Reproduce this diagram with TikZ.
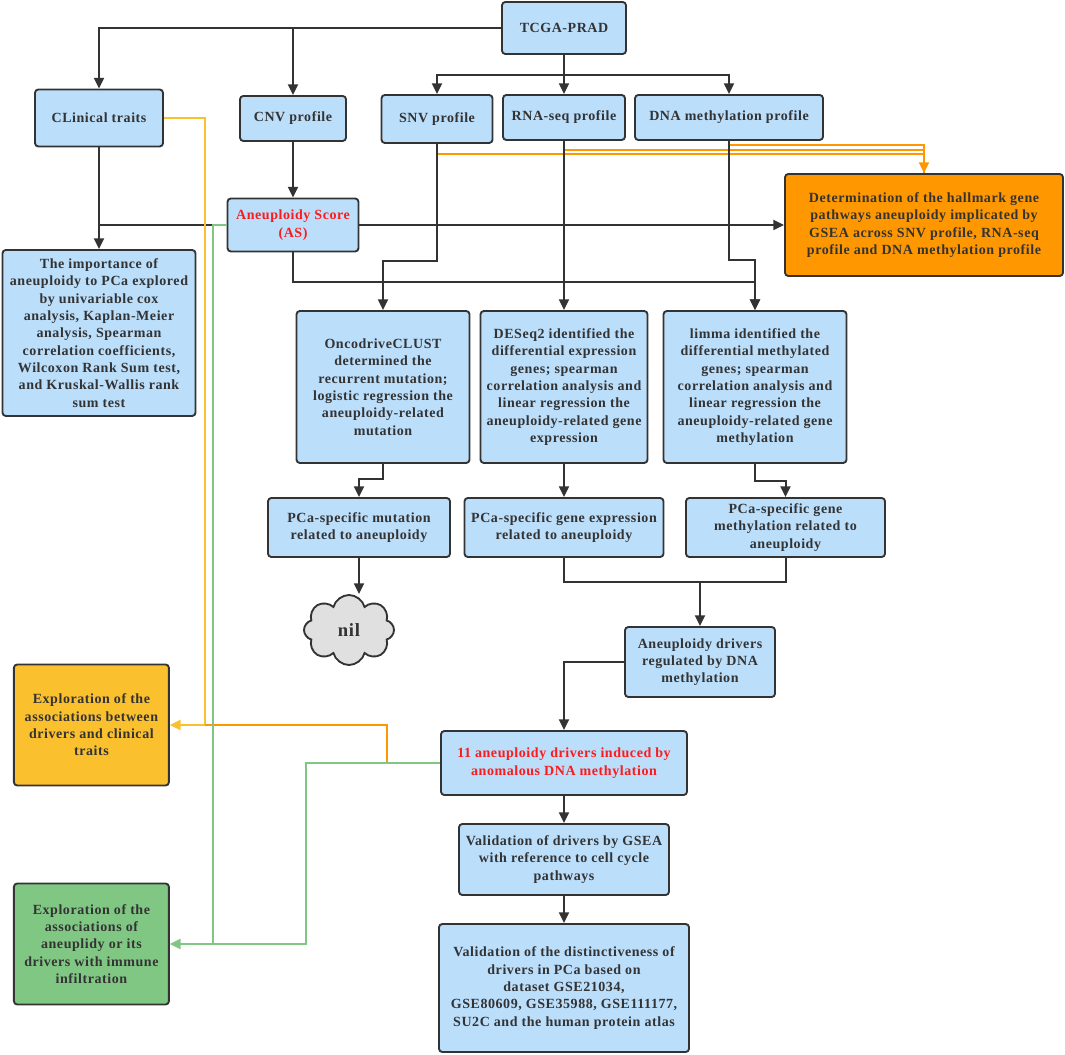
\documentclass[tikz,border=0pt]{standalone}
\usepackage{fontspec}
\setmainfont{Liberation Serif}[LetterSpace=4]
\usetikzlibrary{arrows.meta, shapes.symbols}

\definecolor{boxblue}{HTML}{BBDEFB}
\definecolor{darkline}{HTML}{333333}
\definecolor{hallorange}{HTML}{FF9800}
\definecolor{clinyellow}{HTML}{FBC02D}
\definecolor{immgreen}{HTML}{81C784}
\definecolor{nilgrey}{HTML}{E0E0E0}
\definecolor{keyred}{HTML}{FF1A1A}

\begin{document}
\begin{tikzpicture} [x=0.75pt, y=-0.75pt,
    stage/.style = {draw=darkline, fill=boxblue, line width=1.4pt, rounded corners=2.5pt,
        align=center, inner sep=2pt, text=darkline,
        font=\fontsize{10.5}{13}\selectfont\bfseries},
    size/.style 2 args = {minimum width=#1*0.75pt, minimum height=#2*0.75pt},
    key/.style = {text=keyred},
    tip/.style = {-{Triangle[length=8pt, width=7.5pt]}},
    flow/.style = {tip, draw=darkline, line width=1.5pt},
    clinline/.style = {draw=clinyellow, line width=1.5pt},
    hallline/.style = {draw=hallorange, line width=1.5pt},
    immline/.style = {draw=immgreen, line width=1.5pt}]
    \useasboundingbox (0,0) rectangle (1065,1055);

    % sources
    \node (tcga) [stage, size={124}{52}] at (564,28) {TCGA-PRAD};
    \node (clin) [stage, size={128}{57}] at (99,118) {CLinical traits};
    \node (cnv) [stage, size={106}{45}] at (293,118.5) {CNV profile};
    \node (snv) [stage, size={111}{48}] at (437,119) {SNV profile};
    \node (rna) [stage, size={122}{45}] at (564,117.5) {RNA-seq profile};
    \node (dna) [stage, size={188}{45}] at (729,117.5) {DNA methylation profile};

    \node (as) [stage, key, size={131}{53}] at (293,225) {Aneuploidy Score\\(AS)};
    \node (hallmark) [stage, fill=hallorange, size={278}{102}] at (924,225)
        {Determination of the hallmark gene\\pathways aneuploidy implicated by\\GSEA across SNV profile, RNA-seq\\profile and DNA methylation profile};
    \node (imp) [stage, size={193}{166}] at (99,333)
        {The importance of\\aneuploidy to PCa explored\\by univariable cox\\analysis, Kaplan-Meier\\analysis, Spearman\\correlation coefficients,\\Wilcoxon Rank Sum test,\\and Kruskal-Wallis rank\\sum test};

    % analyses
    \node (onco) [stage, size={173}{152}] at (383,387)
        {OncodriveCLUST\\determined the\\recurrent mutation;\\logistic regression the\\aneuploidy-related\\mutation};
    \node (deseq) [stage, size={167}{152}] at (564,387)
        {DESeq2 identified the\\differential expression\\genes; spearman\\correlation analysis and\\linear regression the\\aneuploidy-related gene\\expression};
    \node (limma) [stage, size={183}{152}] at (755,387)
        {limma identified the\\differential methylated\\genes; spearman\\correlation analysis and\\linear regression the\\aneuploidy-related gene\\methylation};

    \node (pmut) [stage, size={182}{59}] at (359,527.5) {PCa-specific mutation\\related to aneuploidy};
    \node (pexp) [stage, size={199}{59}] at (564,527.5) {PCa-specific gene expression\\related to aneuploidy};
    \node (pmet) [stage, size={199}{59}] at (785.5,527.5) {PCa-specific gene\\methylation related to\\aneuploidy};
    \node (nil) [cloud, cloud puffs=8, aspect=1.25, draw=darkline, fill=nilgrey, line width=1.4pt,
        size={90}{70}, font=\fontsize{14}{16}\selectfont\bfseries, text=darkline] at (349,630) {nil};

    % drivers
    \node (drv) [stage, size={150}{70}] at (700,662) {Aneuploidy drivers\\regulated by DNA\\methylation};
    \node (drv11) [stage, key, size={246}{64}] at (564,763) {11 aneuploidy drivers induced by\\anomalous DNA methylation};
    \node (valg) [stage, size={210}{71}] at (564,859.5) {Validation of drivers by GSEA\\with reference to cell cycle\\pathways};
    \node (vald) [stage, size={250}{128}] at (564,988)
        {Validation of the distinctiveness of\\drivers in PCa based on\\dataset GSE21034,\\GSE80609, GSE35988, GSE111177,\\SU2C and the human protein atlas};
    \node (expc) [stage, fill=clinyellow, size={155}{121}] at (91.4,725)
        {Exploration of the\\associations between\\drivers and clinical\\traits};
    \node (expi) [stage, fill=immgreen, size={155}{121}] at (91.4,944)
        {Exploration of the\\associations of\\aneuplidy or its\\drivers with immune\\infiltration};

    % bends
    \coordinate (split) at (564,75);
    \coordinate (asbus) at (293,282);
    \coordinate (snvbend) at (437,261);
    \coordinate (dnabend) at (729,260);
    \coordinate (oncobend) at (383,479);
    \coordinate (limmabend) at (755,481);
    \coordinate (mergebus) at (700,582);
    \coordinate (snvtap) at (437,154);
    \coordinate (rnatap) at (564,150);
    \coordinate (dnatap) at (729,145);
    \coordinate (clinjoin) at (205,725);
    \coordinate (drvtap) at (387,763);
    \coordinate (asdrop) at (213,944);
    \coordinate (drvdrop) at (306,944);

    \draw [flow] (tcga.west) -| (clin.north);
    \draw [flow] (tcga.west) -| (cnv.north);
    \draw [flow] (tcga.south) -- (split) -| (snv.north);
    \draw [flow] (split) -- (rna.north);
    \draw [flow] (split) -| (dna.north);

    \draw [flow] (clin.south) -- (imp.north);
    \draw [darkline, line width=1.5pt] (clin.south |- as.west) -- (as.west);
    \draw [flow] (cnv.south) -- (as.north);
    \draw [flow] (as.east) -- (hallmark.west);

    \draw [hallline] (snvtap) -| (hallmark.north);
    \draw [hallline] (rnatap) -| (hallmark.north);
    \draw [hallline, tip] (dnatap) -| (hallmark.north);

    \draw [flow] (as.south) -- (asbus) -| (limma.north);
    \draw [flow] (snv.south) -- (snvbend) -| (onco.north);
    \draw [flow] (rna.south) -- (deseq.north);
    \draw [flow] (dna.south) -- (dnabend) -| (limma.north);

    \draw [flow] (onco.south) -- (oncobend) -| (pmut.north);
    \draw [flow] (deseq.south) -- (pexp.north);
    \draw [flow] (limma.south) -- (limmabend) -| (pmet.north);
    \draw [flow] (pmut.south) -- (pmut.south |- nil.north);

    \draw [darkline, line width=1.5pt] (pexp.south) |- (mergebus) -| (pmet.south);
    \draw [flow] (mergebus) -- (drv.north);
    \draw [flow] (drv.west) -| (drv11.north);
    \draw [flow] (drv11.south) -- (valg.north);
    \draw [flow] (valg.south) -- (vald.north);

    \draw [clinline, tip] (clin.east) -| (clinjoin) -- (expc.east);
    \draw [hallline] (drvtap) |- (clinjoin);
    \draw [immline, tip] (as.west) -| (asdrop) -- (expi.east);
    \draw [immline] (drv11.west) -| (drvdrop) -- (asdrop);

\end{tikzpicture}
\end{document}
